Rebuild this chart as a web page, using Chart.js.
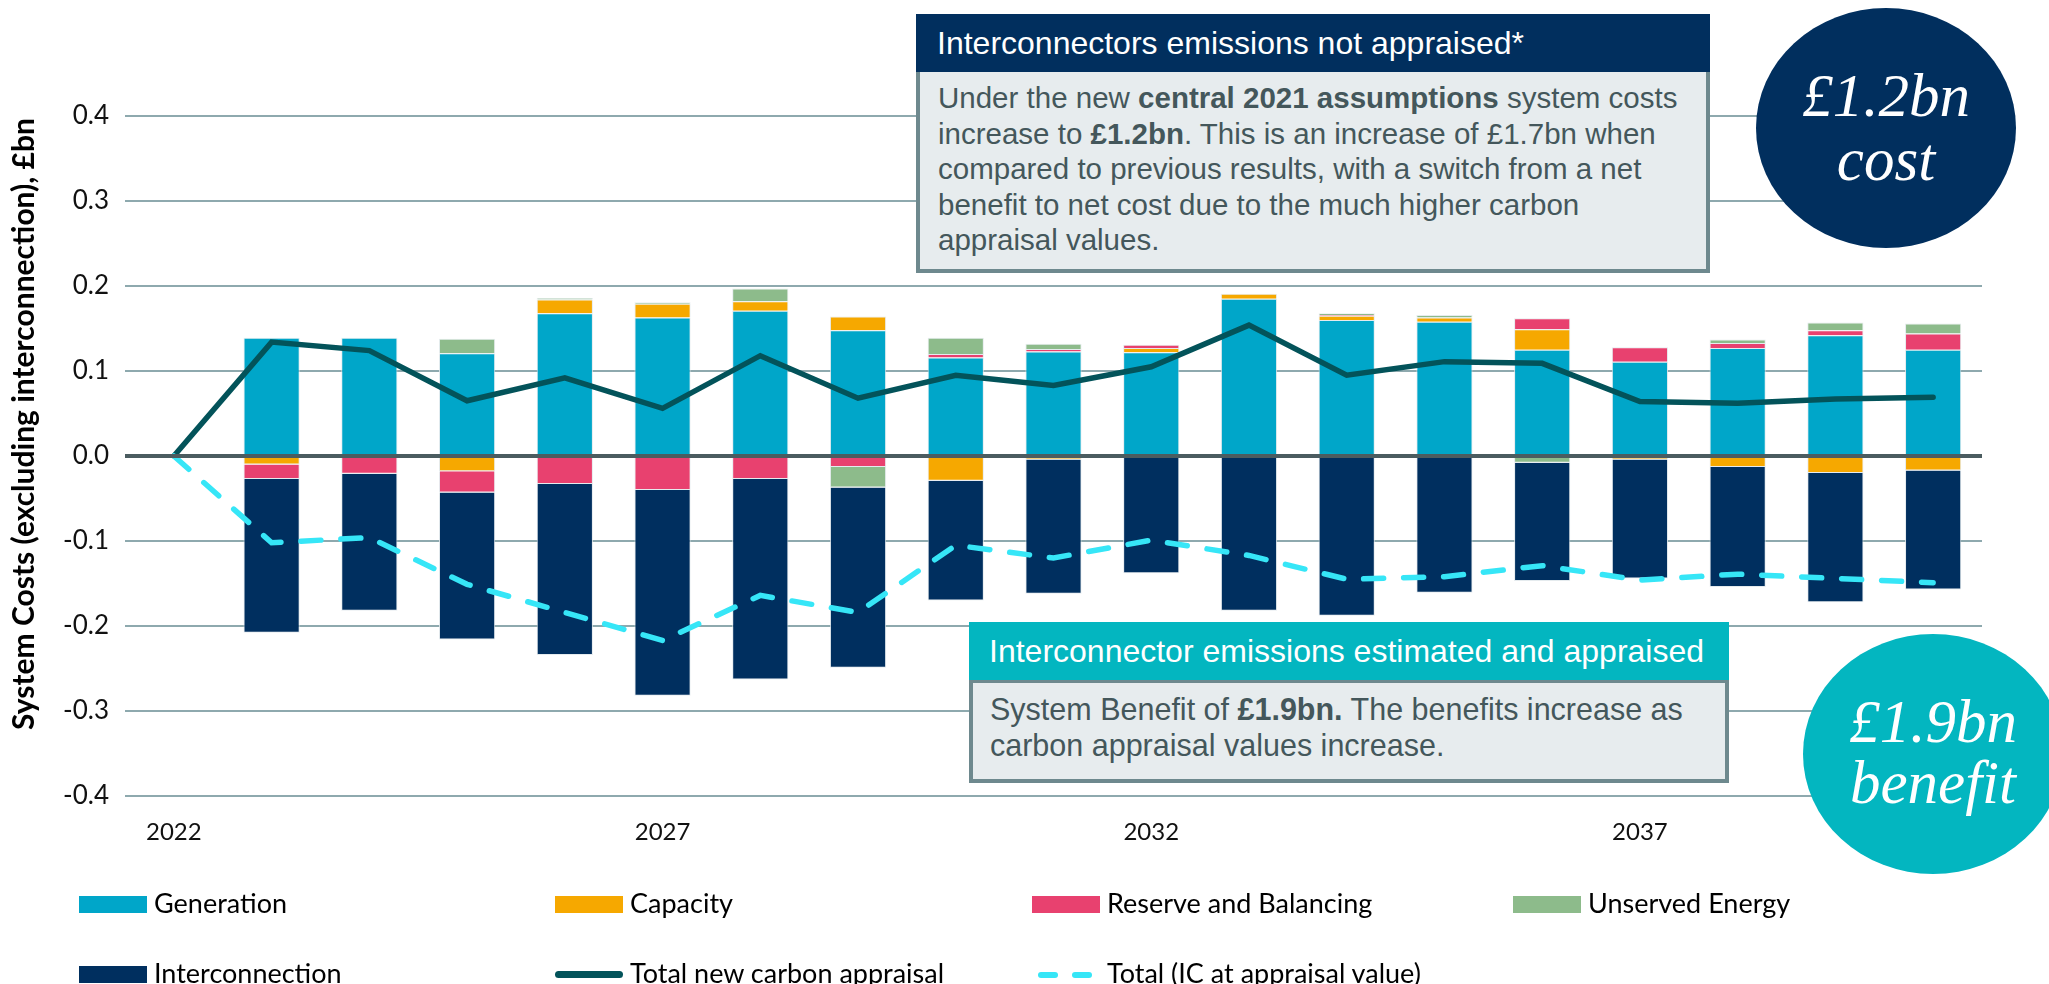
<!DOCTYPE html>
<html>
<head>
<meta charset="utf-8">
<script src="https://cdn.jsdelivr.net/npm/chart.js@4.4.1/dist/chart.umd.min.js"></script>
<style>
  html, body { margin: 0; padding: 0; background: #fff; overflow: hidden; }
  #wrap { position: relative; width: 2049px; height: 984px; overflow: hidden; }
  #chart { position: absolute; left: 0; top: 0; }
  .box { position: absolute; font-family: "Liberation Sans", Arial, sans-serif; }
  .box .head { color: #fff; font-size: 32px; height: 58px; line-height: 58px; white-space: nowrap; }
  .box .body { background: #E7ECEE; border: 4px solid #6E898E; color: #44575B; line-height: 35.5px; box-sizing: border-box; white-space: nowrap; }
  .box b { font-weight: bold; }
  .bubble { position: absolute; border-radius: 50%; }
  .bubble-text { position: absolute; width: 300px; text-align: center; color: #fff; font-family: "Liberation Serif", "DejaVu Serif", serif; font-style: italic; font-size: 61px; line-height: 61px; white-space: nowrap; }
  .leg { position: absolute; font-family: Lato, "Open Sans", sans-serif; font-size: 27px; line-height: 27px; color: #000; white-space: nowrap; }
  .sw { position: absolute; }
</style>
</head>
<body>
<div id="wrap">
  <canvas id="chart" width="2049" height="984"></canvas>

  <div class="box" style="left:916px; top:14px; width:794px;">
    <div class="head" style="background:#012F5E; padding-left:21px;">Interconnectors emissions not appraised*</div>
    <div class="body" style="height:201px; border-top:none; padding:8px 0 0 18px; font-size:29.5px;">
      Under the new <b>central 2021 assumptions</b> system costs<br>
      increase to <b>£1.2bn</b>. This is an increase of £1.7bn when<br>
      compared to previous results, with a switch from a net<br>
      benefit to net cost due to the much higher carbon<br>
      appraisal values.
    </div>
  </div>

  <div class="box" style="left:969px; top:622px; width:760px;">
    <div class="head" style="background:#03B6C0; padding-left:20px;">Interconnector emissions estimated and appraised</div>
    <div class="body" style="height:103px; border-top-width:3px; padding:9px 0 0 17px; font-size:30.5px;">
      System Benefit of <b>£1.9bn.</b> The benefits increase as<br>
      carbon appraisal values increase.
    </div>
  </div>

  <div class="bubble" style="left:1756px; top:8px; width:260px; height:240px; background:#012F5E;"></div>
  <div class="bubble-text" style="left:1736px; top:65px;">£1.2bn</div>
  <div class="bubble-text" style="left:1736px; top:129px;">cost</div>

  <div class="bubble" style="left:1803px; top:634px; width:260px; height:240px; background:#03B6C0;"></div>
  <div class="bubble-text" style="left:1783px; top:691px;">£1.9bn</div>
  <div class="bubble-text" style="left:1783px; top:752px;">benefit</div>

  <div id="legend"></div>
</div>

<script>
// years on the category axis
const years = ['2022', '2023', '2024', '2025', '2026', '2027', '2028', '2029', '2030', '2031',
               '2032', '2033', '2034', '2035', '2036', '2037', '2038', '2039', '2040'];

// cost components, £bn
const generation      = [0, 0.139, 0.139, 0.121, 0.168, 0.163, 0.171, 0.148, 0.116, 0.123, 0.122, 0.185, 0.160, 0.158, 0.125, 0.111, 0.127, 0.142, 0.125];
const capacity        = [0, -0.010, 0, -0.018, 0.016, 0.016, 0.011, 0.016, -0.029, -0.004, 0.005, 0.006, 0.005, 0.005, 0.024, -0.004, -0.013, -0.020, -0.017];
const reserve         = [0, -0.017, -0.021, -0.025, -0.033, -0.040, -0.027, -0.013, 0.004, 0.003, 0.004, 0, 0.001, 0, 0.013, 0.017, 0.006, 0.006, 0.019];
const unserved        = [0, 0, 0, 0.017, 0.002, 0.002, 0.015, -0.024, 0.019, 0.006, 0, 0, 0.002, 0.003, -0.008, 0, 0.004, 0.009, 0.012];
const interconnection = [0, -0.181, -0.161, -0.173, -0.201, -0.242, -0.236, -0.212, -0.141, -0.158, -0.138, -0.182, -0.188, -0.161, -0.139, -0.140, -0.141, -0.152, -0.140];

// totals
const totalNewCarbon  = [0, 0.134, 0.124, 0.065, 0.092, 0.056, 0.118, 0.068, 0.095, 0.083, 0.105, 0.154, 0.095, 0.111, 0.109, 0.064, 0.062, 0.067, 0.069];
const totalIC         = [0, -0.102, -0.096, -0.151, -0.184, -0.217, -0.164, -0.184, -0.105, -0.120, -0.099, -0.117, -0.145, -0.142, -0.129, -0.146, -0.139, -0.144, -0.149];

const yTicks = [-0.4, -0.3, -0.2, -0.1, 0, 0.1, 0.2, 0.3, 0.4];

const colors = {
    generation: '#00A6C9',
    capacity: '#F6A800',
    reserve: '#E8416F',
    unserved: '#8DBB8B',
    interconnection: '#002F5F',
    totalNew: '#03535A',
    totalIC: '#36E6F7'
};

function barSet(label, data, color) {
    return {
        type: 'bar',
        label: label,
        data: data,
        backgroundColor: color,
        borderColor: 'rgba(225,232,235,0.85)',
        borderWidth: 1,
        stack: 'costs',
        order: 2,
        barPercentage: 0.575,
        categoryPercentage: 1
    };
}

// thick zero line goes over the bars, like the original
const zeroLine = {
    id: 'zeroLine',
    afterDatasetsDraw(chart) {
        const { ctx, chartArea, scales } = chart;
        const y = scales.y.getPixelForValue(0);
        ctx.save();
        ctx.strokeStyle = '#4B5C60';
        ctx.lineWidth = 4;
        ctx.beginPath();
        ctx.moveTo(chartArea.left, y);
        ctx.lineTo(chartArea.right, y);
        ctx.stroke();
        ctx.restore();
    }
};

// y axis title sits a bit above the axis middle in the original
const yTitle = {
    id: 'yTitle',
    afterDraw(chart) {
        const ctx = chart.ctx;
        ctx.save();
        ctx.translate(24, 424);
        ctx.rotate(-Math.PI / 2);
        ctx.font = 'bold 30px Lato, "Open Sans", sans-serif';
        ctx.fillStyle = '#000';
        ctx.textAlign = 'center';
        ctx.textBaseline = 'middle';
        ctx.fillText('System Costs (excluding interconnection), £bn', 0, 0);
        ctx.restore();
    }
};

const ctx = document.getElementById('chart').getContext('2d');
const chart = new Chart(ctx, {
    data: {
        labels: years,
        datasets: [
            barSet('Generation', generation, colors.generation),
            barSet('Capacity', capacity, colors.capacity),
            barSet('Reserve and Balancing', reserve, colors.reserve),
            barSet('Unserved Energy', unserved, colors.unserved),
            barSet('Interconnection', interconnection, colors.interconnection),
            {
                type: 'line',
                label: 'Total new carbon appraisal',
                data: totalNewCarbon,
                borderColor: colors.totalNew,
                backgroundColor: colors.totalNew,
                borderWidth: 5.5,
                pointRadius: 0,
                tension: 0,
                borderCapStyle: 'round',
                borderJoinStyle: 'miter',
                stack: 'tnew',
                order: 1
            },
            {
                type: 'line',
                label: 'Total (IC at appraisal value)',
                data: totalIC,
                borderColor: colors.totalIC,
                backgroundColor: colors.totalIC,
                borderWidth: 5.5,
                borderDash: [20, 20],
                borderCapStyle: 'round',
                pointRadius: 0,
                tension: 0,
                stack: 'tic',
                order: 0
            }
        ]
    },
    options: {
        responsive: false,
        animation: false,
        layout: { padding: { top: 116, right: 67, bottom: 138, left: 0 } },
        plugins: {
            legend: { display: false },
            tooltip: { enabled: false }
        },
        scales: {
            x: {
                stacked: true,
                offset: true,
                grid: { display: false, drawTicks: false },
                border: { display: false },
                ticks: {
                    autoSkip: false,
                    maxRotation: 0,
                    padding: 22,
                    color: '#111',
                    font: { family: 'Lato', size: 24 },
                    callback: function (v, i) {
                        return (i % 5 === 0) ? years[i] : '';
                    }
                },
                afterFit(scale) { scale.height = 50; }
            },
            y: {
                stacked: true,
                min: -0.4,
                max: 0.4,
                afterBuildTicks(scale) {
                    scale.ticks = yTicks.map(v => ({ value: v }));
                },
                grid: { color: '#8EA9AE', lineWidth: 2, drawTicks: false },
                border: { display: false },
                ticks: {
                    padding: 16,
                    color: '#111',
                    font: { family: 'Lato', size: 26 },
                    callback: v => (Math.abs(v) < 1e-9 ? '0.0' : v.toFixed(1))
                },
                afterFit(scale) { scale.width = 125; }
            }
        }
    },
    plugins: [zeroLine, yTitle]
});

// legend laid out in fixed columns like the original
const legendItems = [
    { label: 'Generation', kind: 'box', color: colors.generation, x: 79, row: 0 },
    { label: 'Capacity', kind: 'box', color: colors.capacity, x: 555, row: 0 },
    { label: 'Reserve and Balancing', kind: 'box', color: colors.reserve, x: 1032, row: 0 },
    { label: 'Unserved Energy', kind: 'box', color: colors.unserved, x: 1513, row: 0 },
    { label: 'Interconnection', kind: 'box', color: colors.interconnection, x: 79, row: 1 },
    { label: 'Total new carbon appraisal', kind: 'line', color: colors.totalNew, x: 555, row: 1 },
    { label: 'Total (IC at appraisal value)', kind: 'dash', color: colors.totalIC, x: 1032, row: 1 }
];
const rowTop = [896, 966];
const legendDiv = document.getElementById('legend');
legendItems.forEach(item => {
    const top = rowTop[item.row];
    if (item.kind === 'box') {
        const s = document.createElement('div');
        s.className = 'sw';
        s.style.cssText = `left:${item.x}px; top:${top}px; width:68px; height:17px; background:${item.color};`;
        legendDiv.appendChild(s);
    } else if (item.kind === 'line') {
        const s = document.createElement('div');
        s.className = 'sw';
        s.style.cssText = `left:${item.x}px; top:${top + 5}px; width:68px; height:7px; border-radius:4px; background:${item.color};`;
        legendDiv.appendChild(s);
    } else {
        [6, 40].forEach(dx => {
            const s = document.createElement('div');
            s.className = 'sw';
            s.style.cssText = `left:${item.x + dx}px; top:${top + 6}px; width:20px; height:6px; border-radius:3px; background:${item.color};`;
            legendDiv.appendChild(s);
        });
    }
    const t = document.createElement('div');
    t.className = 'leg';
    t.style.left = (item.x + 75) + 'px';
    t.style.top = (top - 7) + 'px';
    t.textContent = item.label;
    legendDiv.appendChild(t);
});
</script>
</body>
</html>
